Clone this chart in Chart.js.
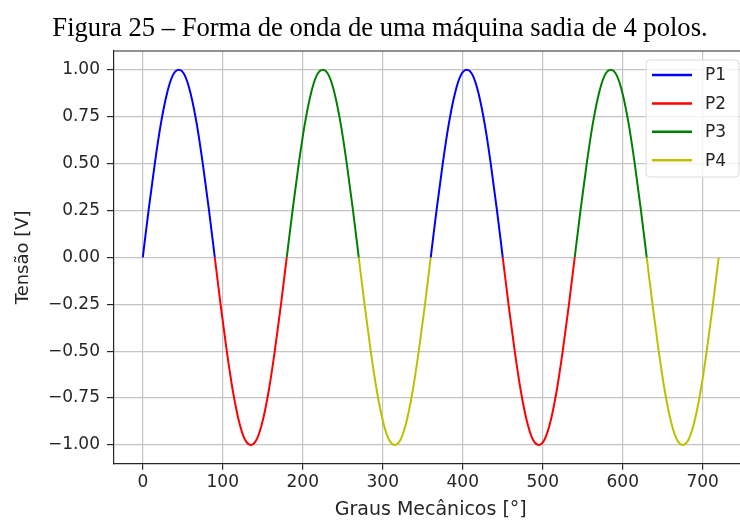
<!DOCTYPE html>
<html>
<head>
<meta charset="utf-8">
<script src="https://cdn.jsdelivr.net/npm/chart.js@4"></script>
<style>
  html, body { margin: 0; padding: 0; background: #fff; width: 740px; height: 521px; overflow: hidden; }
  #wrap { position: relative; width: 740px; height: 521px; }
  #title {
    position: absolute; left: 0; top: 10px; width: 760px; text-align: center;
    font-family: "Liberation Serif", "Times New Roman", serif; font-size: 28px; line-height: 34px;
    color: #000; white-space: nowrap; transform: scaleX(0.95); transform-origin: 380px 0;
  }
  canvas { position: absolute; left: 0; top: 0; }
</style>
</head>
<body>
<div id="wrap">
  <canvas id="chart" width="760" height="521"></canvas>
  <div id="title">Figura 25 – Forma de onda de uma máquina sadia de 4 polos.</div>
</div>
<script>
// one quarter of the electrical cycle, in mechanical degrees
const quarterAngles = [0, 7.5, 15, 22.5, 30, 37.5, 45, 52.5, 60, 67.5, 75, 82.5, 90];
// positive and negative lobes (V)
const posLobe = [0.00, 0.26, 0.50, 0.71, 0.87, 0.97, 1.00, 0.97, 0.87, 0.71, 0.50, 0.26, 0.00];
const negLobe = [0.00, -0.26, -0.50, -0.71, -0.87, -0.97, -1.00, -0.97, -0.87, -0.71, -0.50, -0.26, 0.00];

// where each pole's lobes start
const poleNames = ["P1", "P2", "P3", "P4"];
const poleStarts = [[0, 360], [90, 450], [180, 540], [270, 630]];
const poleLobes = [posLobe, negLobe, posLobe, negLobe];
const poleColors = ["#0000ff", "#ff0000", "#008000", "#bfbf00"];

const xTicks = [0, 100, 200, 300, 400, 500, 600, 700];
const yTicks = [-1.0, -0.75, -0.5, -0.25, 0, 0.25, 0.5, 0.75, 1.0];

function poleData(i) {
  const pts = [];
  poleStarts[i].forEach((start, k) => {
    if (k > 0) pts.push({ x: start - 1, y: null });
    quarterAngles.forEach((a, j) => pts.push({ x: start + a, y: poleLobes[i][j] }));
  });
  return pts;
}

const datasets = poleNames.map((name, i) => ({
  label: name,
  data: poleData(i),
  borderColor: poleColors[i],
  borderWidth: 2,
  pointRadius: 0,
  fill: false,
  spanGaps: false,
  cubicInterpolationMode: "monotone",
}));

// top spine (Chart.js only draws the axis borders)
const topSpine = {
  id: "topSpine",
  afterDraw(chart) {
    const { ctx: c, chartArea: a } = chart;
    c.save();
    c.strokeStyle = "#262626";
    c.lineWidth = 1.2;
    c.beginPath();
    c.moveTo(a.left, a.top);
    c.lineTo(a.right, a.top);
    c.stroke();
    c.restore();
  }
};

// legend box inside the plot, upper right
const insideLegend = {
  id: "insideLegend",
  afterDraw(chart) {
    const c = chart.ctx;
    const x = 646, y = 60, w = 93, h = 117, r = 4;
    c.save();
    c.beginPath();
    c.moveTo(x + r, y);
    c.arcTo(x + w, y, x + w, y + h, r);
    c.arcTo(x + w, y + h, x, y + h, r);
    c.arcTo(x, y + h, x, y, r);
    c.arcTo(x, y, x + w, y, r);
    c.closePath();
    c.fillStyle = "rgba(255,255,255,0.8)";
    c.fill();
    c.strokeStyle = "#dcdcdc";
    c.lineWidth = 1;
    c.stroke();
    chart.data.datasets.forEach((ds, i) => {
      const ly = 75 + i * 28.4;
      c.strokeStyle = ds.borderColor;
      c.lineWidth = 2.5;
      c.beginPath();
      c.moveTo(652, ly);
      c.lineTo(692, ly);
      c.stroke();
      c.fillStyle = "#262626";
      c.font = "17px 'DejaVu Sans'";
      c.textBaseline = "middle";
      c.fillText(ds.label, 705, ly + 1);
    });
    c.restore();
  }
};

new Chart(document.getElementById("chart"), {
  type: "line",
  data: { datasets },
  plugins: [topSpine, insideLegend],
  options: {
    responsive: false,
    animation: false,
    layout: { padding: { top: 51, right: 12.5, bottom: 0, left: 0 } },
    plugins: { legend: { display: false }, tooltip: { enabled: false } },
    scales: {
      x: {
        type: "linear",
        min: -36, max: 756,
        afterBuildTicks: s => { s.ticks = xTicks.map(v => ({ value: v })); },
        afterFit: s => { s.height = 57.3; },
        ticks: { color: "#262626", font: { family: "DejaVu Sans", size: 17 }, padding: 3, maxRotation: 0,
                 callback: v => String(v) },
        grid: { color: "#c4c4c4", lineWidth: 1.2, tickColor: "#262626", tickLength: 6 },
        border: { color: "#262626", width: 1.2 },
        title: { display: true, text: "Graus Mecânicos [°]", color: "#262626",
                 font: { family: "DejaVu Sans", size: 19 }, padding: { top: 0, bottom: 0 } },
      },
      y: {
        type: "linear",
        min: -1.1, max: 1.1,
        afterBuildTicks: s => { s.ticks = yTicks.map(v => ({ value: v })); },
        afterFit: s => { s.width = 114; },
        ticks: { color: "#262626", font: { family: "DejaVu Sans", size: 17 }, padding: 7,
                 callback: v => (v < 0 ? "\u2212" : "") + Math.abs(v).toFixed(2) },
        grid: { color: "#c4c4c4", lineWidth: 1.2, tickColor: "#262626", tickLength: 7 },
        border: { color: "#262626", width: 1.2 },
        title: { display: true, text: "Tensão [V]", color: "#262626",
                 font: { family: "DejaVu Sans", size: 18 }, padding: { top: 13, bottom: 0 } },
      },
    },
  },
});
</script>
</body>
</html>
